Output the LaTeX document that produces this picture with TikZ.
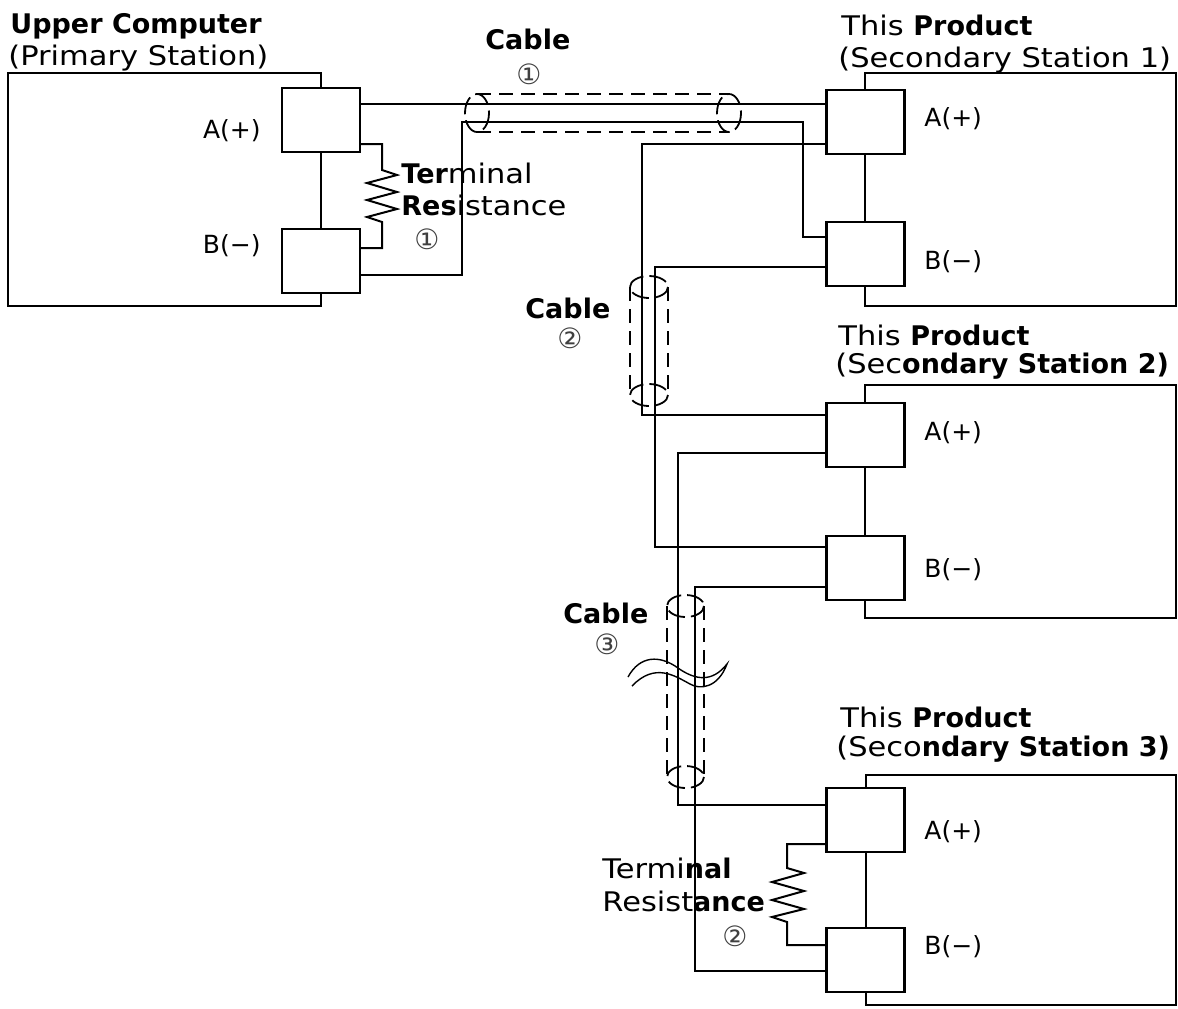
\documentclass[tikz,border=0pt]{standalone}
\usepackage{fontspec}
\setmainfont{DejaVu Sans}[FakeStretch=1.13]
\newfontfamily\heavy{DejaVu Sans}
\newcommand{\hb}[1]{{\heavy\bfseries #1}}

\tikzset{
  wire/.style={line width=1pt},
  unit/.style={line width=1.2pt},
  pinbox/.style={draw, line width=1.1pt, fill=white, minimum width=39pt, minimum height=32pt, inner sep=0pt},
  shield/.style={line width=0.9pt, dash pattern=on 7pt off 4pt},
  shieldend/.style={line width=0.9pt, dash pattern=on 9pt off 3pt},
  title/.style={anchor=base west, inner sep=0pt, font=\fontsize{13.5}{16}\selectfont},
  pinlabel/.style={anchor=west, inner sep=0pt, font=\heavy\fontsize{12.5}{14}\selectfont},
  circnum/.style={inner sep=0pt, text=black!75, font=\heavy\fontsize{14}{16}\selectfont},
}

\begin{document}
\begin{tikzpicture}[x=0.5pt,y=-0.5pt]
\useasboundingbox (0,0) rectangle (1178,1008);

% units
\draw[unit] (8,73) rectangle (321,306);
\draw[unit] (865,73) rectangle (1176,306);
\draw[unit] (865,385) rectangle (1176,618);
\draw[unit] (866,775) rectangle (1176,1005);

% terminals
\node[pinbox] (ua) at (321,120) {};
\node[pinbox] (ub) at (321,261) {};
\node[pinbox] (s1a) at (865.5,122) {};
\node[pinbox] (s1b) at (865.5,254) {};
\node[pinbox] (s2a) at (865.5,435) {};
\node[pinbox] (s2b) at (865.5,568) {};
\node[pinbox] (s3a) at (865.5,820) {};
\node[pinbox] (s3b) at (865.5,960) {};

\node[pinlabel, anchor=east] (ua-lbl) at (261,131) {A(+)};
\node[pinlabel, anchor=east] (ub-lbl) at (261,246) {B(−)};
\node[pinlabel] (s1a-lbl) at (924,119) {A(+)};
\node[pinlabel] (s1b-lbl) at (924,262) {B(−)};
\node[pinlabel] (s2a-lbl) at (924,433) {A(+)};
\node[pinlabel] (s2b-lbl) at (924,570) {B(−)};
\node[pinlabel] (s3a-lbl) at (924,832) {A(+)};
\node[pinlabel] (s3b-lbl) at (924,947) {B(−)};

% wiring
\draw[wire] (ua.east |- 0,104) -- (s1a.west |- 0,104);
\draw[wire] (ub.east |- 0,275) -| (462,122) -| (803,237) -- (s1b.west |- 0,237);
\draw[wire] (s1a.west |- 0,144) -| (642,415) -- (s2a.west |- 0,415);
\draw[wire] (s1b.west |- 0,267) -| (655,547) -- (s2b.west |- 0,547);
\draw[wire] (s2a.west |- 0,453) -| (678,805) -- (s3a.west |- 0,805);
\draw[wire] (s2b.west |- 0,587) -| (695,971) -- (s3b.west |- 0,971);

% terminal resistances
\draw[wire] (ua.east |- 0,144) -| (382,170) -- (397,175) -- (367,183) -- (397,192)
  -- (367,200) -- (397,209) -- (367,217) -- (382,222) |- (ub.east |- 0,248);
\draw[wire] (s3a.west |- 0,844) -| (787,868) -- (804,873) -- (772,882) -- (804,891)
  -- (772,900) -- (804,909) -- (772,917) -- (787,922) |- (s3b.west |- 0,945);

% cable shields
\draw[shield] (477,94) -- (729,94) (477,132) -- (729,132);
\draw[shieldend] (477,113) ellipse (12 and 19) (729,113) ellipse (12 and 19);
\draw[shield] (630,287) -- (630,395) (668,287) -- (668,395);
\draw[shieldend] (649,287) ellipse (19 and 11) (649,395) ellipse (19 and 11);
\draw[shield] (667,606) -- (667,777) (704,606) -- (704,777);
\draw[shieldend] (685.5,606) ellipse (18.5 and 11) (685.5,777) ellipse (18.5 and 11);

% break mark
\draw[line width=0.7pt] (628,677) .. controls (640,655) and (660,655) .. (678,668)
  .. controls (695,680) and (712,683) .. (727,664)
  .. controls (718,688) and (700,690) .. (690,684)
  .. controls (675,676) and (655,662) .. (632,686);

% titles
\node[title] (pc-t1) at (10,33) {\hb{Upper Computer}};
\node[title] (pc-t2) at (8,65) {(Primary Station)};
\node[title] (s1-t1) at (841,35) {This \hb{Product}};
\node[title] (s1-t2) at (838,67) {(Secondary Station 1)};
\node[title] (s2-t1) at (838,345) {This \hb{Product}};
\node[title] (s2-t2) at (835,373) {(Sec\hb{ondary Station 2)}};
\node[title] (s3-t1) at (840,727) {This \hb{Product}};
\node[title] (s3-t2) at (836,756) {(Seco\hb{ndary Station 3)}};

% cable and resistance labels
\node[title] (c1-lbl) at (485,49) {\hb{Cable}};
\node[circnum] (c1-num) at (529,74) {①};
\node[title] (c2-lbl) at (525,318) {\hb{Cable}};
\node[circnum] (c2-num) at (570,338) {②};
\node[title] (c3-lbl) at (563,623) {\hb{Cable}};
\node[circnum] (c3-num) at (607,644) {③};
\node[title] (r1-t1) at (401,183) {\hb{Ter}minal};
\node[title] (r1-t2) at (401,215) {\hb{Res}istance};
\node[circnum] (r1-num) at (427,239) {①};
\node[title] (r2-t1) at (602,878) {Termi\hb{nal}};
\node[title] (r2-t2) at (602,911) {Resist\hb{ance}};
\node[circnum] (r2-num) at (735,936) {②};
\end{tikzpicture}
\end{document}
